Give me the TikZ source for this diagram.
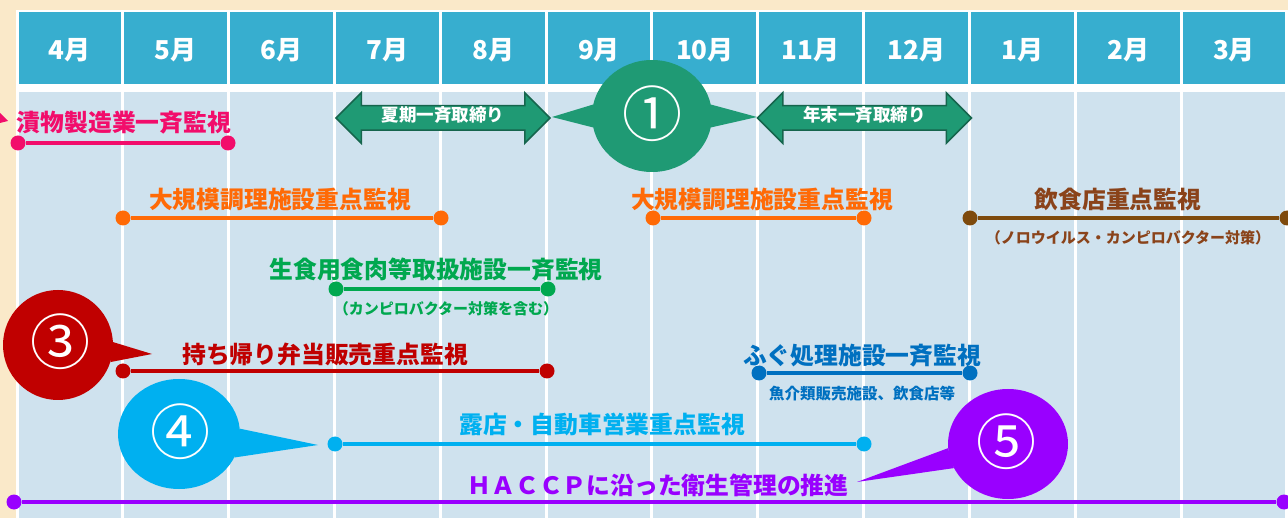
\documentclass[tikz,border=0pt]{standalone}
\usepackage{fontspec}
\setmainfont{Noto Sans CJK JP}
\usetikzlibrary{shapes.geometric,shapes.arrows}
\definecolor{bg}{HTML}{FAE9C9}
\definecolor{hdr}{HTML}{37AECF}
\definecolor{cell}{HTML}{CFE2EE}
\definecolor{pinkc}{HTML}{F20D6B}
\definecolor{orangec}{HTML}{FF6A06}
\definecolor{greenc}{HTML}{00A84F}
\definecolor{brownc}{HTML}{7E4A0C}
\definecolor{browntxt}{HTML}{8A431A}
\definecolor{redc}{HTML}{C00000}
\definecolor{bluec}{HTML}{0070C0}
\definecolor{cyanc}{HTML}{00B0F0}
\definecolor{purplec}{HTML}{9900FF}
\definecolor{tealc}{HTML}{1F9A74}
\definecolor{tealdark}{HTML}{16654D}
\tikzset{
  dot/.style={circle,inner sep=0pt,minimum size=15pt},
  tl/.style={line width=3.5pt},
  lbl/.style={inner sep=0pt,font=\bfseries\fontsize{23.8}{24}\selectfont},
  sublbl/.style={inner sep=0pt,font=\bfseries\fontsize{15}{16}\selectfont},
  month/.style={inner sep=0pt,text=white,font=\bfseries\fontsize{26}{26}\selectfont},
  callout/.style={ellipse,inner sep=0pt},
  digit/.style={text=white,inner sep=0pt,font=\fontsize{60}{60}\selectfont},
  bigarrow/.style={double arrow,double arrow head extend=13pt,inner xsep=0pt,inner ysep=3pt,
    text height=12pt,text depth=5pt,minimum height=214pt,fill=tealc,draw=tealdark,line width=1.5pt,
    text=white,font=\bfseries\fontsize{17.5}{18}\selectfont}
}
\begin{document}
\begin{tikzpicture}[x=1pt,y=-1pt]
\useasboundingbox (0,0) rectangle (1288,518);
\fill[bg] (0,0) rectangle (1288,518);
% table
\fill[white] (15.5,10.5) rectangle (1288,518);
\foreach \i [evaluate=\i as \xa using 17+105.83*\i, evaluate=\i as \xb using 17+105.83*(\i+1)] in {0,...,11} {
  \fill[hdr] (\xa+1.5,12.5) rectangle (\xb-1.5,84);
  \fill[cell] (\xa+1.5,92) rectangle (\xb-1.5,518);
}
\foreach \m [count=\k from 0] in {4,5,6,7,8,9,10,11,12,1,2,3} {
  \node[month] (m\m) at (17+105.83*\k+52.9,50) {{\m}月};
}
% small pink tail at left edge
\fill[pinkc] (0,113) -- (8,121) -- (0,123) -- cycle;

% (1) callout and arrows
\node[bigarrow] (a1) at (443,118) {夏期一斉取締り};
\node[bigarrow] (a2) at (864.5,118) {年末一斉取締り};
\node[callout,fill=tealc,minimum width=120pt,minimum height=112pt] (c1) at (652,116) {};
\coordinate (t1l) at (552,117);
\coordinate (t1r) at (757,117);
\fill[tealc] (c1.169) -- (t1l) -- (c1.191) -- cycle;
\fill[tealc] (c1.11) -- (t1r) -- (c1.-11) -- cycle;
\node[digit] (n1) at (652,114) {①};

% pink
\node[lbl,text=pinkc] (tp) at (124,123) {漬物製造業一斉監視};
\node[dot,fill=pinkc] (p1) at (18,143) {};
\node[dot,fill=pinkc] (p2) at (228,143) {};
\draw[tl,pinkc] (p1) -- (p2);

% orange 1
\node[lbl,text=orangec] (to1) at (280,199) {大規模調理施設重点監視};
\node[dot,fill=orangec] (o1) at (123,218) {};
\node[dot,fill=orangec] (o2) at (441,218) {};
\draw[tl,orangec] (o1) -- (o2);
% orange 2
\node[lbl,text=orangec] (to2) at (762,199) {大規模調理施設重点監視};
\node[dot,fill=orangec] (o3) at (653,218) {};
\node[dot,fill=orangec] (o4) at (864,218) {};
\draw[tl,orangec] (o3) -- (o4);

% brown
\node[lbl,text=browntxt] (tb) at (1118,199) {飲食店重点監視};
\node[dot,fill=brownc] (b1) at (970,218) {};
\node[dot,fill=brownc] (b2) at (1287,218) {};
\draw[tl,brownc] (b1) -- (b2);
\node[sublbl,text=browntxt] (sb) at (1128,238) {（ノロウイルス・カンピロバクター対策）};

% green
\node[lbl,text=greenc] (tg) at (436,270) {生食用食肉等取扱施設一斉監視};
\node[dot,fill=greenc] (g1) at (336,289) {};
\node[dot,fill=greenc] (g2) at (548,289) {};
\draw[tl,greenc] (g1) -- (g2);
\node[sublbl,text=greenc] (sg) at (446,309) {（カンピロバクター対策を含む）};

% red + callout 3
\node[callout,fill=redc,minimum width=110pt,minimum height=110pt] (c3) at (58,345) {};
\coordinate (t3) at (152,354);
\fill[redc] (c3.3) -- (t3) -- (c3.-18) -- cycle;
\node[digit] (n3) at (60,342) {③};
\node[lbl,text=redc] (tr) at (325,354) {持ち帰り弁当販売重点監視};
\node[dot,fill=redc] (r1) at (123,371) {};
\node[dot,fill=redc] (r2) at (547,371) {};
\draw[tl,redc] (r1) -- (r2);

% blue
\node[lbl,text=bluec] (tf) at (862,356) {ふぐ処理施設一斉監視};
\node[dot,fill=bluec] (f1) at (759,373) {};
\node[dot,fill=bluec] (f2) at (970,373) {};
\draw[tl,bluec] (f1) -- (f2);
\node[sublbl,text=bluec,font=\bfseries\fontsize{15.5}{16}\selectfont] (sf) at (862,394) {魚介類販売施設、飲食店等};

% cyan + callout 4
\node[callout,fill=cyanc,minimum width=122pt,minimum height=110pt] (c4) at (179,434) {};
\coordinate (t4) at (318,445);
\fill[cyanc] (c4.5) -- (t4) -- (c4.-23) -- cycle;
\node[digit] (n4) at (180,432) {④};
\node[lbl,text=cyanc] (tc) at (602,425) {露店・自動車営業重点監視};
\node[dot,fill=cyanc] (y1) at (335,444) {};
\node[dot,fill=cyanc] (y2) at (864,444) {};
\draw[tl,cyanc] (y1) -- (y2);

% purple + callout 5
\node[lbl,text=purplec] (th) at (658,485) {ＨＡＣＣＰに沿った衛生管理の推進};
\node[dot,fill=purplec] (h1) at (14,502) {};
\node[dot,fill=purplec] (h2) at (1284,502) {};
\draw[tl,purplec] (h1) -- (h2);
\node[callout,fill=purplec,minimum width=120pt,minimum height=110pt] (c5) at (1008,444) {};
\coordinate (t5) at (857,482);
\fill[purplec] (c5.184) -- (t5) -- (c5.204) -- cycle;
\node[digit] (n5) at (1006,442) {⑤};
\end{tikzpicture}
\end{document}
